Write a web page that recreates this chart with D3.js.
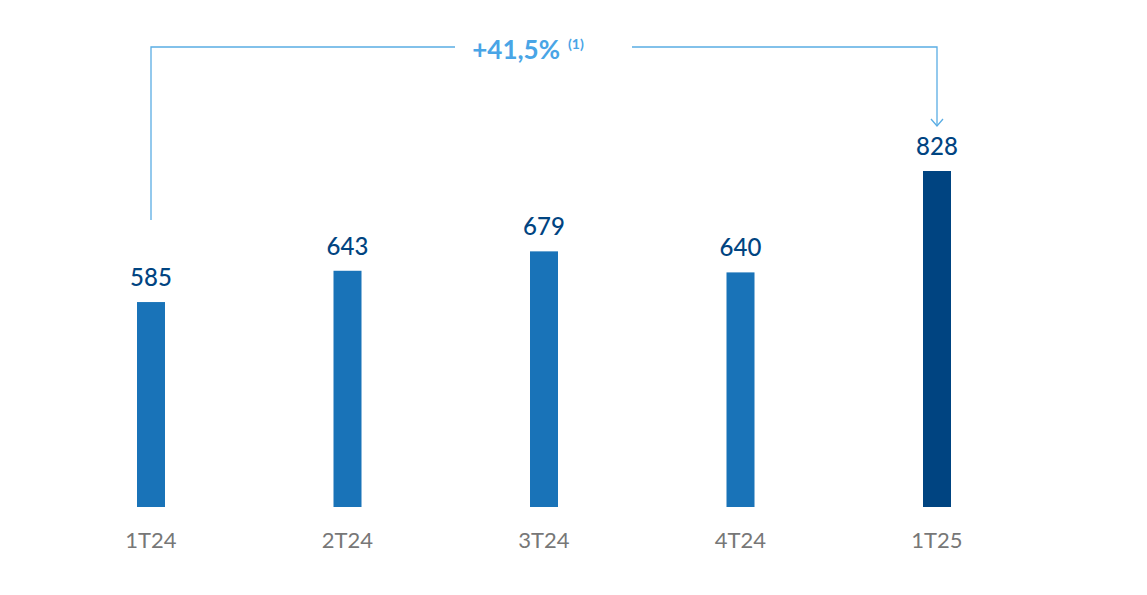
<!DOCTYPE html>
<html><head><meta charset="utf-8">
<script src="https://cdn.jsdelivr.net/npm/d3@7"></script>
<style>body{margin:0;background:#fff}</style>
</head><body>
<svg id="chart" width="1147" height="595"></svg>
<script>
const categories = ['1T24', '2T24', '3T24', '4T24', '1T25'];
const values = [585, 643, 679, 640, 828];
const growthLabel = '+41,5%';
const growthNote = '(1)';

const svg = d3.select('#chart');
const font = 'Lato, "Open Sans", sans-serif';

const x = d3.scalePoint().domain(categories).range([151, 937]);
const y = d3.scaleLinear().domain([205, 828]).range([507, 171]);
const barW = 28;

svg.selectAll('rect.bar')
  .data(values)
  .join('rect')
  .attr('x', (d, i) => x(categories[i]) - barW / 2)
  .attr('y', d => y(d))
  .attr('width', barW)
  .attr('height', d => y.range()[0] - y(d))
  .attr('fill', (d, i) => i === values.length - 1 ? '#004481' : '#1973b8');

svg.selectAll('text.val')
  .data(values)
  .join('text')
  .attr('x', (d, i) => x(categories[i]))
  .attr('y', d => y(d) - 16)
  .attr('text-anchor', 'middle')
  .style('font', `500 24px ${font}`)
  .attr('fill', '#004481')
  .text(d => d);

svg.selectAll('text.cat')
  .data(categories)
  .join('text')
  .attr('x', d => x(d))
  .attr('y', 548)
  .attr('text-anchor', 'middle')
  .style('font', `22px ${font}`)
  .attr('fill', '#777')
  .text(d => d);

// growth bracket
const x0 = x(categories[0]), x1 = x(categories[categories.length - 1]);
const topY = 47, lineC = '#5aade4';
svg.append('path')
  .attr('d', `M${x0},220 V${topY} H455`)
  .attr('fill', 'none').attr('stroke', lineC).attr('stroke-width', 1.3);
svg.append('path')
  .attr('d', `M632,${topY} H${x1} V126`)
  .attr('fill', 'none').attr('stroke', lineC).attr('stroke-width', 1.3);
svg.append('path')
  .attr('d', `M${x1 - 6},119 L${x1},126 L${x1 + 6},119`)
  .attr('fill', 'none').attr('stroke', lineC).attr('stroke-width', 1.3);

const t = svg.append('text')
  .attr('x', 528).attr('y', 59)
  .attr('text-anchor', 'middle')
  .attr('fill', '#49a5e6');
t.append('tspan').style('font', `bold 26px ${font}`).text(growthLabel);
t.append('tspan').attr('dx', 8).attr('dy', -10).style('font', `bold 14px ${font}`).text(growthNote);
</script>
</body></html>
